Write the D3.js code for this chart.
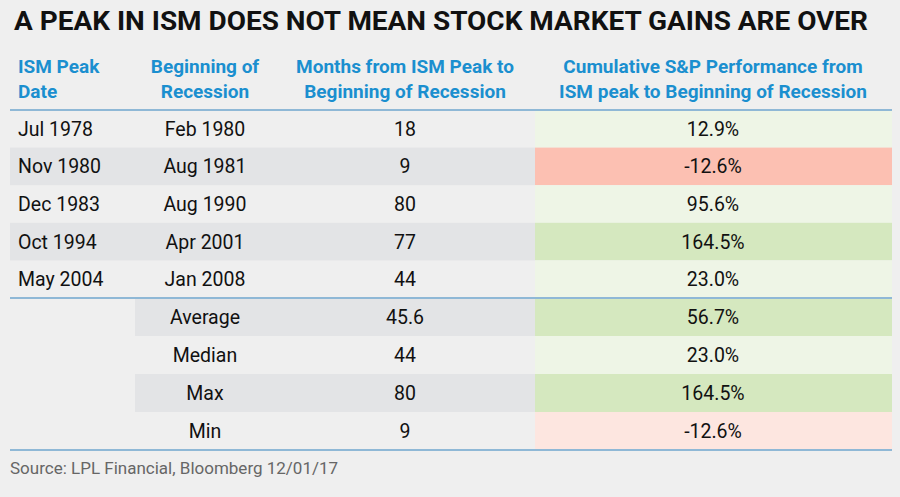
<!DOCTYPE html>
<html><head><meta charset="utf-8">
<script src="https://cdn.jsdelivr.net/npm/d3@7"></script>
<style>body{margin:0;background:#efefef}</style>
</head><body>
<svg id="chart" width="900" height="497"></svg>
<script>
const peakDates = ["Jul 1978","Nov 1980","Dec 1983","Oct 1994","May 2004"];
const recessionDates = ["Feb 1980","Aug 1981","Aug 1990","Apr 2001","Jan 2008"];
const months = [18, 9, 80, 77, 44];
const performance = [12.9, -12.6, 95.6, 164.5, 23.0];
const statLabels = ["Average","Median","Max","Min"];
const statMonths = ["45.6","44","80","9"];
const statPerf = [56.7, 23.0, 164.5, -12.6];
const headers = [["ISM Peak","Date"],["Beginning of","Recession"],["Months from ISM Peak to","Beginning of Recession"],["Cumulative S&P Performance from","ISM peak to Beginning of Recession"]];

const svg = d3.select("#chart");
const font = "'Roboto',sans-serif";
const x = d3.scaleOrdinal().domain([0,1,2,3]).range([18,205,405,713]);
const yData = d3.scaleBand().domain(d3.range(peakDates.length)).range([110,298]);
const yStat = d3.scaleBand().domain(d3.range(statLabels.length)).range([298,450]);

svg.append("text").attr("x",14).attr("y",30).attr("font-family",font)
  .attr("font-weight","bold").attr("font-size",25).attr("fill","#111")
  .attr("textLength",854).attr("lengthAdjust","spacingAndGlyphs")
  .text("A PEAK IN ISM DOES NOT MEAN STOCK MARKET GAINS ARE OVER");

headers.forEach((h,i)=>{
  h.forEach((t,j)=>svg.append("text").attr("x",x(i)).attr("y",73+j*25)
    .attr("text-anchor",i==0?"start":"middle").attr("font-family",font)
    .attr("font-weight","bold").attr("font-size",19).attr("fill","#1b8fcf").text(t));
});

function perfFill(v, stat){
  if (v < 0) return stat ? "#fde6e0" : "#fcc0b2";
  return v > 100 || (stat && v > 50) ? "#d5e8bf" : "#eef5e6";
}

peakDates.forEach((d,i)=>{
  const y0 = yData(i), h = yData.bandwidth();
  if (i%2==1) svg.append("rect").attr("x",10).attr("y",y0).attr("width",525).attr("height",h).attr("fill","#e3e4e6");
  svg.append("rect").attr("x",535).attr("y",y0).attr("width",357).attr("height",h).attr("fill",perfFill(performance[i],false));
  const cells = [d, recessionDates[i], months[i], performance[i].toFixed(1)+"%"];
  cells.forEach((c,k)=>svg.append("text").attr("x",x(k)).attr("y",y0+h/2+7)
    .attr("text-anchor",k==0?"start":"middle").attr("font-family",font)
    .attr("font-size",19.5).attr("fill","#111").text(c));
});

statLabels.forEach((d,i)=>{
  const y0 = yStat(i), h = yStat.bandwidth();
  if (i%2==0) svg.append("rect").attr("x",135).attr("y",y0).attr("width",400).attr("height",h).attr("fill","#e3e4e6");
  svg.append("rect").attr("x",535).attr("y",y0).attr("width",357).attr("height",h).attr("fill",perfFill(statPerf[i],true));
  const cells = [d, statMonths[i], statPerf[i].toFixed(1)+"%"];
  cells.forEach((c,k)=>svg.append("text").attr("x",x(k+1)).attr("y",y0+h/2+7)
    .attr("text-anchor","middle").attr("font-family",font)
    .attr("font-size",19.5).attr("fill","#111").text(c));
});

[110,298,450].forEach(yy=>svg.append("line").attr("x1",10).attr("x2",892)
  .attr("y1",yy).attr("y2",yy).attr("stroke","#8fb8d6").attr("stroke-width",2));

svg.append("text").attr("x",10).attr("y",474).attr("font-family",font)
  .attr("font-size",17).attr("fill","#666").text("Source: LPL Financial, Bloomberg  12/01/17");
</script>
</body></html>
